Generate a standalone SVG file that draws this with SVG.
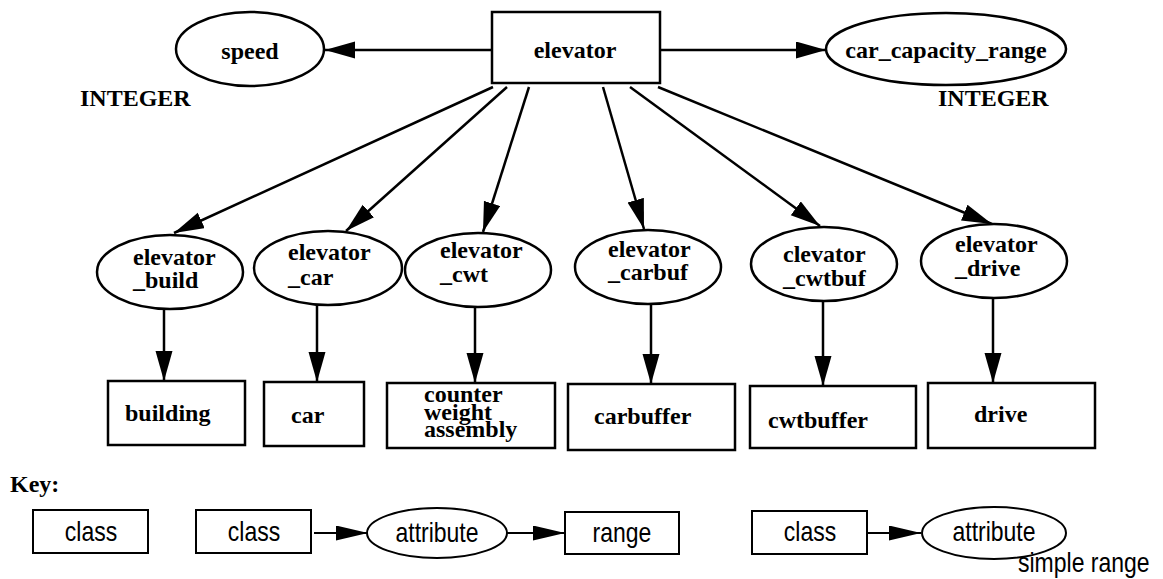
<svg xmlns="http://www.w3.org/2000/svg" width="1163" height="579" viewBox="0 0 1163 579">
<style>
.shape{fill:#fff;stroke:#000;stroke-width:2.5}
.kshape{fill:#fff;stroke:#000;stroke-width:2}
.b{font-family:"Liberation Serif","Times New Roman",serif;font-weight:bold;font-size:24px;fill:#000}
.k{font-family:"Liberation Sans",Arial,sans-serif;font-size:23px;fill:#000}
.c{text-anchor:middle}
.ln{stroke:#000;stroke-width:2.5;fill:none;marker-end:url(#ah)}
.kln{stroke:#000;stroke-width:2;fill:none;marker-end:url(#kah)}
</style>
<defs>
<marker id="ah" markerUnits="userSpaceOnUse" markerWidth="31" markerHeight="18" refX="30" refY="8.5" orient="auto">
<path d="M0,0 L30,8.5 L0,17 z" fill="#000"/>
</marker>
<marker id="kah" markerUnits="userSpaceOnUse" markerWidth="33" markerHeight="16" refX="32" refY="7.5" orient="auto">
<path d="M0,0 L32,7.5 L0,15 z" fill="#000"/>
</marker>
</defs>
<rect width="1163" height="579" fill="#fff"/>
<g id="connectors">
<line class="ln" x1="492" y1="50" x2="325" y2="50"/>
<line class="ln" x1="660" y1="50" x2="826" y2="50"/>
<line class="ln" x1="493" y1="87" x2="174" y2="233"/>
<line class="ln" x1="507" y1="87" x2="346" y2="231"/>
<line class="ln" x1="529" y1="87" x2="483" y2="232"/>
<line class="ln" x1="603" y1="87" x2="644" y2="229"/>
<line class="ln" x1="630" y1="87" x2="820" y2="226"/>
<line class="ln" x1="658" y1="87" x2="992" y2="224"/>
<line class="ln" x1="164" y1="309" x2="164" y2="381"/>
<line class="ln" x1="317" y1="306" x2="317" y2="382"/>
<line class="ln" x1="475" y1="308" x2="475" y2="383"/>
<line class="ln" x1="651" y1="305" x2="651" y2="384"/>
<line class="ln" x1="823" y1="302" x2="823" y2="386"/>
<line class="ln" x1="993" y1="299" x2="993" y2="383"/>
<line class="kln" x1="314" y1="533" x2="368" y2="533"/>
<line class="kln" x1="507" y1="533" x2="565" y2="533"/>
<line class="kln" x1="868" y1="533" x2="921" y2="533"/>
</g>
<g id="elevator"><rect class="shape" x="492" y="12" width="168" height="71"/><text class="b c" x="575" y="58">elevator</text></g>
<g id="speed"><ellipse class="shape" cx="250" cy="49" rx="74" ry="37"/><text class="b c" x="250" y="59">speed</text><text class="b" x="80" y="106">INTEGER</text></g>
<g id="car_capacity_range"><ellipse class="shape" cx="946" cy="49" rx="120" ry="36"/><text class="b c" x="946" y="58">car_capacity_range</text><text class="b" x="938" y="106">INTEGER</text></g>
<g id="elevator_build"><ellipse class="shape" cx="170" cy="272" rx="73" ry="37"/><text class="b" x="133" y="265">elevator</text><text class="b" x="133" y="288">_build</text></g>
<g id="elevator_car"><ellipse class="shape" cx="328" cy="268" rx="74" ry="37"/><text class="b" x="288" y="260">elevator</text><text class="b" x="288" y="285">_car</text></g>
<g id="elevator_cwt"><ellipse class="shape" cx="478" cy="270" rx="73" ry="37"/><text class="b" x="440" y="258">elevator</text><text class="b" x="440" y="282">_cwt</text></g>
<g id="elevator_carbuf"><ellipse class="shape" cx="648" cy="267" rx="73" ry="37"/><text class="b" x="608" y="257">elevator</text><text class="b" x="608" y="280">_carbuf</text></g>
<g id="clevator_cwtbuf"><ellipse class="shape" cx="824" cy="264" rx="73" ry="37"/><text class="b" x="783" y="262">clevator</text><text class="b" x="783" y="286">_cwtbuf</text></g>
<g id="elevator_drive"><ellipse class="shape" cx="994" cy="261" rx="73" ry="37"/><text class="b" x="955" y="252">elevator</text><text class="b" x="955" y="276">_drive</text></g>
<g id="building"><rect class="shape" x="108" y="381" width="137" height="64"/><text class="b" x="125" y="421">building</text></g>
<g id="car"><rect class="shape" x="264" y="382" width="100" height="64"/><text class="b" x="291" y="423">car</text></g>
<g id="counter_weight_assembly"><rect class="shape" x="387" y="383" width="168" height="65"/><text class="b" x="424" y="402">counter</text><text class="b" x="424" y="420">weight</text><text class="b" x="424" y="437">assembly</text></g>
<g id="carbuffer"><rect class="shape" x="568" y="384" width="167" height="66"/><text class="b" x="594" y="424">carbuffer</text></g>
<g id="cwtbuffer"><rect class="shape" x="750" y="386" width="166" height="62"/><text class="b" x="768" y="428">cwtbuffer</text></g>
<g id="drive"><rect class="shape" x="928" y="383" width="167" height="65"/><text class="b" x="974" y="422">drive</text></g>
<g id="key">
<text class="b" x="10" y="492">Key:</text>
<g id="key_class1"><rect class="kshape" x="33" y="510" width="115" height="43"/><text class="k c" transform="translate(91,541) scale(1,1.2)">class</text></g>
<g id="key_class2"><rect class="kshape" x="196" y="510" width="115" height="43"/><text class="k c" transform="translate(254,541) scale(1,1.2)">class</text></g>
<g id="key_attribute1"><ellipse class="kshape" cx="437" cy="533" rx="70" ry="25"/><text class="k c" transform="translate(437,542) scale(1,1.2)">attribute</text></g>
<g id="key_range"><rect class="kshape" x="565" y="512" width="114" height="42"/><text class="k c" transform="translate(622,542) scale(1,1.2)">range</text></g>
<g id="key_class3"><rect class="kshape" x="752" y="511" width="115" height="43"/><text class="k c" transform="translate(810,541) scale(1,1.2)">class</text></g>
<g id="key_attribute2"><ellipse class="kshape" cx="994" cy="533" rx="72" ry="26"/><text class="k c" transform="translate(994,541) scale(1,1.2)">attribute</text></g>
<text class="k" transform="translate(1018,572) scale(1,1.2)">simple range</text>
</g>
</svg>
